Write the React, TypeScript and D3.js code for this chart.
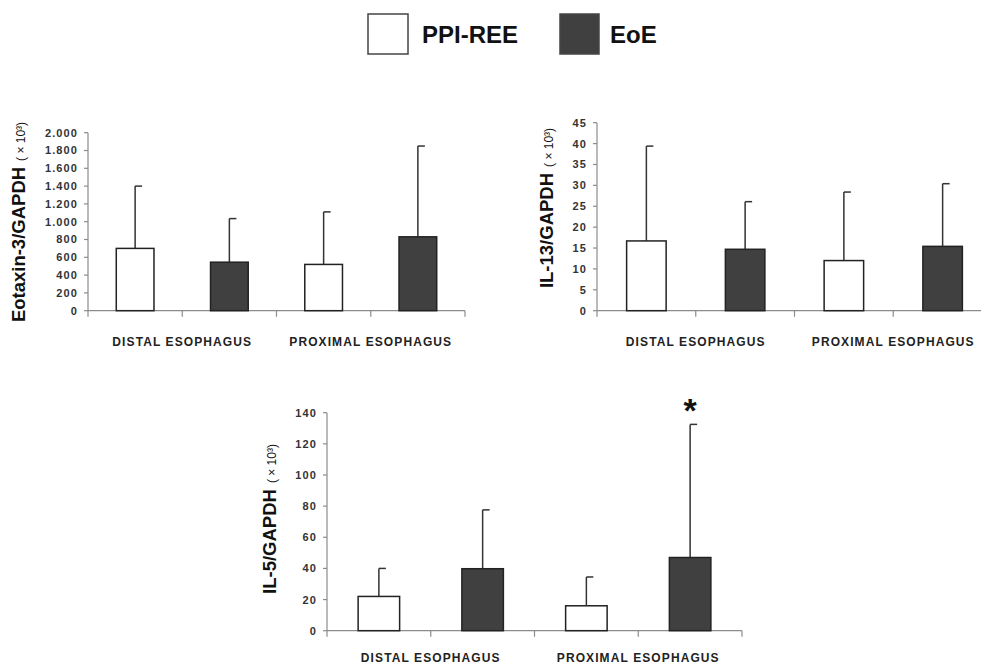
import React from "react";
import * as d3 from "d3";

// categories and groups
const sites = ["DISTAL ESOPHAGUS", "PROXIMAL ESOPHAGUS"];
const groups = ["PPI-REE", "EoE"];

// Eotaxin-3/GAPDH (x10^3)
const eotaxinPPI = [700, 520];
const eotaxinPPIsd = [700, 590];
const eotaxinEoE = [545, 830];
const eotaxinEoEsd = [490, 1020];

// IL-13/GAPDH (x10^3)
const il13PPI = [16.7, 12.0];
const il13PPIsd = [22.7, 16.4];
const il13EoE = [14.7, 15.4];
const il13EoEsd = [11.4, 15.0];

// IL-5/GAPDH (x10^3)
const il5PPI = [22, 16];
const il5PPIsd = [18, 18.5];
const il5EoE = [39.8, 47];
const il5EoEsd = [37.8, 85.5];
const il5Significant = [false, true];

const FILL = { "PPI-REE": "#ffffff", EoE: "#404040" };
const FONT = "Arial, 'Liberation Sans', sans-serif";

const euro = d3.formatLocale({ decimal: ",", thousands: ".", grouping: [3], currency: ["", ""] });

const panels = [
  {
    title: "Eotaxin-3/GAPDH",
    ppi: eotaxinPPI, ppiSd: eotaxinPPIsd, eoe: eotaxinEoE, eoeSd: eotaxinEoEsd,
    sig: [false, false],
    max: 2000, ticks: 10, fmt: euro.format(","),
    x0: 88, x1: 465, y0: 310.7, y1: 132.7, labelX: 25, labelY: 222, catDy: 35
  },
  {
    title: "IL-13/GAPDH",
    ppi: il13PPI, ppiSd: il13PPIsd, eoe: il13EoE, eoeSd: il13EoEsd,
    sig: [false, false],
    max: 45, ticks: 9, fmt: d3.format("d"),
    x0: 597, x1: 992, y0: 310.7, y1: 122.7, labelX: 553, labelY: 208, catDy: 35
  },
  {
    title: "IL-5/GAPDH",
    ppi: il5PPI, ppiSd: il5PPIsd, eoe: il5EoE, eoeSd: il5EoEsd,
    sig: il5Significant,
    max: 140, ticks: 7, fmt: d3.format("d"),
    x0: 327, x1: 742, y0: 630.7, y1: 412.7, labelX: 276, labelY: 519, catDy: 31.5
  }
];

type Panel = typeof panels[number];

const BarPanel = ({ p }: { p: Panel }) => {
  const slots = sites.flatMap((s) => groups.map((g) => `${s}|${g}`));
  const x = d3.scaleBand<string>().domain(slots).range([p.x0, p.x1]).paddingInner(0.6).paddingOuter(0.3);
  const y = d3.scaleLinear().domain([0, p.max]).range([p.y0, p.y1]);
  const step = x.step();
  const boundaries = d3.range(slots.length + 1).map((i) => p.x0 + i * step);

  const bars = sites.flatMap((s, i) => [
    { key: `${s}|PPI-REE`, g: "PPI-REE", v: p.ppi[i], sd: p.ppiSd[i], sig: false },
    { key: `${s}|EoE`, g: "EoE", v: p.eoe[i], sd: p.eoeSd[i], sig: p.sig[i] }
  ]);

  return (
    <g>
      {/* y axis */}
      <line x1={p.x0} x2={p.x0} y1={y(0)} y2={y(p.max)} stroke="#8c8c8c" strokeWidth={1.2} />
      {y.ticks(p.ticks).map((t) => (
        <g key={t} transform={`translate(0,${y(t)})`}>
          <line x1={p.x0 - 4} x2={p.x0} stroke="#8c8c8c" strokeWidth={1.2} />
          <text x={p.x0 - 10} dy="0.36em" textAnchor="end" fontSize={11} fontWeight="bold"
            letterSpacing={1.1} fill="#333" fontFamily={FONT}>{p.fmt(t)}</text>
        </g>
      ))}
      {/* x axis */}
      <line x1={p.x0} x2={p.x1} y1={y(0)} y2={y(0)} stroke="#8c8c8c" strokeWidth={1.2} />
      {boundaries.map((bx, i) => (
        <line key={i} x1={bx} x2={bx} y1={y(0)} y2={y(0) + 6} stroke="#8c8c8c" strokeWidth={1.2} />
      ))}
      {sites.map((s, i) => (
        <text key={s} x={(boundaries[i * 2] + boundaries[i * 2 + 2]) / 2} y={y(0) + p.catDy}
          textAnchor="middle" fontSize={12} fontWeight="bold" letterSpacing={1.1}
          fill="#222" fontFamily={FONT}>{s}</text>
      ))}
      {/* bars */}
      {bars.map((b) => {
        const bx = x(b.key)!;
        const cx = bx + x.bandwidth() / 2;
        const top = y(b.v + b.sd);
        return (
          <g key={b.key}>
            <line x1={cx} x2={cx} y1={y(b.v)} y2={top} stroke="#333" strokeWidth={1.5} />
            <line x1={cx} x2={cx + 7} y1={top} y2={top} stroke="#333" strokeWidth={1.5} />
            <rect x={bx} y={y(b.v)} width={x.bandwidth()} height={y(0) - y(b.v)}
              fill={FILL[b.g as keyof typeof FILL]} stroke="#222" strokeWidth={1.5} />
            {b.sig && (
              <text x={cx} y={top - 2} textAnchor="middle" fontSize={34} fontWeight="bold"
                fill="#111" fontFamily={FONT}>*</text>
            )}
          </g>
        );
      })}
      {/* y label */}
      <text transform={`translate(${p.labelX},${p.labelY}) rotate(-90)`} textAnchor="middle"
        fontFamily={FONT} fill="#111">
        <tspan fontSize={18.5} fontWeight="bold">{p.title}</tspan>
        <tspan fontSize={12} dx={6}>( × 10³)</tspan>
      </text>
    </g>
  );
};

export default function App() {
  return (
    <svg width={981} height={664} style={{ position: "absolute", left: 0, top: 0, background: "#fff" }}>
      {/* legend */}
      <rect x={368} y={14} width={40} height={40} fill={FILL["PPI-REE"]} stroke="#444" strokeWidth={1.5} />
      <text x={422} y={43} fontSize={24} fontWeight="bold" fontFamily={FONT} fill="#111">{groups[0]}</text>
      <rect x={560} y={14} width={39} height={40} fill={FILL.EoE} stroke="#444" strokeWidth={1.5} />
      <text x={610} y={43} fontSize={24} fontWeight="bold" fontFamily={FONT} fill="#111">{groups[1]}</text>
      {panels.map((p) => (
        <BarPanel key={p.title} p={p} />
      ))}
    </svg>
  );
}
